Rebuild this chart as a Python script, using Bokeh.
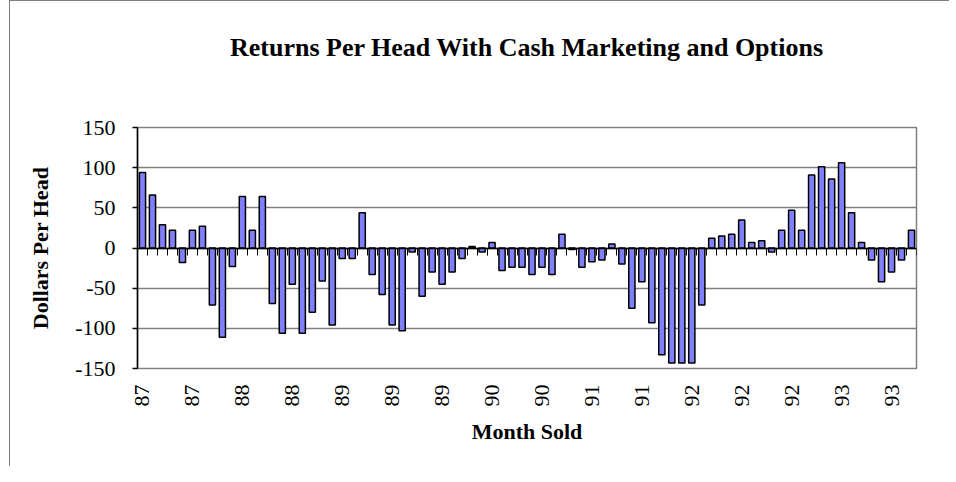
from bokeh.plotting import figure
from bokeh.models import FixedTicker, LinearAxis, Range1d, ColumnDataSource, Title
from bokeh.embed import file_html
from bokeh.resources import INLINE
import math

# Monthly returns per head (dollars), Jun 1987 - Nov 1993
returns = [94, 66, 29, 22, -18, 22, 27, -71, -111, -23,
           64, 22, 64, -69, -106, -45, -106, -80, -41, -96,
           -13, -13, 44, -33, -58, -96, -103, -5, -60, -30,
           -45, -30, -13, 2, -5, 7, -28, -24, -24, -33,
           -24, -33, 17, -2, -24, -17, -15, 5, -20, -75,
           -42, -93, -133, -143, -143, -143, -71, 12, 15, 17,
           35, 7, 9, -5, 22, 47, 22, 91, 101, 86,
           106, 44, 7, -15, -42, -30, -15, 22]

# Year labels shown on every 5th month
tick_labels = ["87", "87", "88", "88", "89", "89", "89", "90",
               "90", "91", "91", "92", "92", "92", "93", "93"]
label_step = 5
y_ticks = [-150, -100, -50, 0, 50, 100, 150]

n = len(returns)
idx = list(range(n))
src = ColumnDataSource(dict(x=idx, top=returns))

FONT = "Liberation Serif"

p = figure(width=940, height=466, output_backend="svg", toolbar_location=None,
           x_range=Range1d(-0.5, n - 0.5), y_range=Range1d(y_ticks[0], y_ticks[-1]),
           min_border_left=127, min_border_right=34, min_border_top=126,
           min_border_bottom=99,
           styles={"margin-left": "9px",
                   "border-left": "1.5px solid #808080",
                   "border-top": "1.5px solid #808080"})

p.title.text = "Returns Per Head With Cash Marketing and Options"
p.title.text_font = FONT
p.title.text_font_size = "26px"
p.title.text_font_style = "bold"
p.title.text_color = "black"
p.title.align = "center"
p.title.standoff = 10

# spacer between the frame and the chart title
p.add_layout(Title(text=" ", text_font_size="1px", standoff=58), "above")

p.vbar(x="x", top="top", bottom=0, width=0.62, source=src,
       fill_color="#8080ff", line_color="black", line_width=1.5)

p.outline_line_color = "#808080"
p.outline_line_width = 1.5

p.xgrid.grid_line_color = None
p.ygrid.ticker = FixedTicker(ticks=y_ticks)
p.ygrid.grid_line_color = "#808080"
p.ygrid.grid_line_width = 1.3

# y axis
ya = p.yaxis[0]
ya.ticker = FixedTicker(ticks=y_ticks)
ya.major_label_overrides = {v: str(v) for v in y_ticks}
ya.axis_label = "Dollars Per Head"
ya.axis_label_text_font = FONT
ya.axis_label_text_font_size = "22px"
ya.axis_label_text_font_style = "bold"
ya.axis_label_text_color = "black"
ya.axis_label_standoff = 19
ya.major_label_text_font = FONT
ya.major_label_text_font_size = "22px"
ya.major_label_text_color = "black"
ya.major_label_standoff = 17
ya.major_tick_out = 5
ya.major_tick_in = 0
ya.minor_tick_out = 0
ya.minor_tick_in = 0
ya.axis_line_color = "black"
ya.axis_line_width = 1.5
ya.major_tick_line_width = 1.5

# x axis (labels only, below the frame)
xa = p.xaxis[0]
label_pos = idx[::label_step]
xa.ticker = FixedTicker(ticks=label_pos)
xa.major_label_overrides = {pos: lab for pos, lab in zip(label_pos, tick_labels)}
xa.major_label_orientation = math.pi / 2
xa.major_label_text_font = FONT
xa.major_label_text_font_size = "22px"
xa.major_label_text_color = "black"
xa.major_label_standoff = 10
xa.major_tick_line_color = None
xa.minor_tick_line_color = None
xa.axis_line_color = None
xa.axis_label = "Month Sold"
xa.axis_label_text_font = FONT
xa.axis_label_text_font_size = "22px"
xa.axis_label_text_font_style = "bold"
xa.axis_label_text_color = "black"
xa.axis_label_standoff = 9

# category tick marks on the zero line
za = LinearAxis(fixed_location=0,
                ticker=FixedTicker(ticks=[i - 0.5 for i in range(n + 1)]),
                major_label_text_color=None, major_label_text_font_size="1px",
                major_tick_out=7, major_tick_in=0,
                minor_tick_line_color=None,
                axis_line_color="black", axis_line_width=1.5,
                major_tick_line_color="black", major_tick_line_width=1)
p.add_layout(za, "below")

open("out.html", "w").write(file_html(p, INLINE))
